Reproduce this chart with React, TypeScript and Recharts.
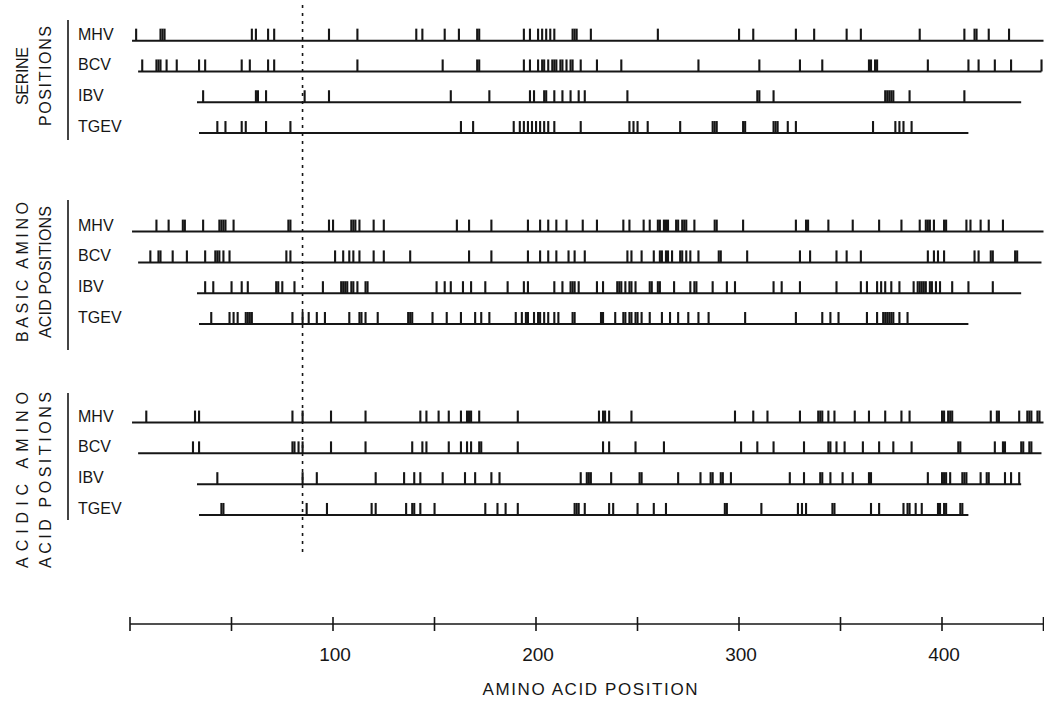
import { ScatterChart, Scatter, XAxis, YAxis, ReferenceLine } from "recharts";

const INK = "#161616";
const FONT = "'Liberation Sans', Arial, sans-serif";

// track names and how far each protein runs (amino acid position)
const viruses = ["MHV", "BCV", "IBV", "TGEV"];
const trackStart = [1, 4, 33, 34];
const trackEnd = [450, 449, 439, 413];

const groupTitles = [
  ["SERINE", "POSITIONS"],
  ["BASIC AMINO", "ACID POSITIONS"],
  ["ACIDIC AMINO", "ACID POSITIONS"],
];

const axisTicks = [0, 50, 100, 150, 200, 250, 300, 350, 400, 450];
const axisLabels = [100, 200, 300, 400];
const dividerPosition = 85;

// serine positions
const serineMHV = [3, 15, 16, 17, 60, 62, 68, 71, 98, 112, 141, 144, 155, 162, 171, 172, 194, 197, 201, 203, 205, 207, 209, 218, 219, 220, 227, 260, 300, 307, 328, 337, 353, 360, 389, 411, 416, 417, 423, 433];
const serineBCV = [6, 13, 14, 15, 18, 23, 34, 37, 55, 59, 68, 71, 112, 154, 171, 172, 194, 197, 201, 203, 204, 206, 208, 209, 210, 212, 213, 215, 217, 218, 222, 230, 242, 280, 310, 330, 341, 364, 365, 367, 368, 393, 413, 418, 426, 434, 449];
const serineIBV = [36, 62, 63, 67, 86, 98, 158, 177, 197, 199, 204, 205, 209, 213, 217, 221, 224, 245, 309, 310, 317, 372, 373, 374, 375, 376, 384, 411];
const serineTGEV = [43, 47, 55, 57, 67, 79, 163, 169, 189, 192, 194, 196, 198, 200, 202, 204, 206, 209, 222, 246, 248, 250, 255, 271, 287, 288, 289, 302, 303, 317, 318, 319, 324, 328, 366, 377, 379, 381, 385];

// basic amino acid positions
const basicMHV = [13, 19, 26, 27, 36, 44, 45, 46, 47, 51, 78, 79, 98, 100, 109, 110, 111, 113, 120, 125, 161, 167, 178, 196, 202, 206, 210, 215, 223, 230, 243, 246, 253, 256, 260, 261, 263, 264, 265, 269, 270, 272, 273, 274, 278, 288, 289, 302, 328, 333, 334, 344, 356, 369, 380, 389, 392, 393, 394, 396, 401, 402, 412, 414, 419, 423, 430];
const basicBCV = [10, 14, 15, 21, 28, 37, 42, 43, 44, 46, 49, 77, 79, 101, 105, 108, 110, 113, 120, 125, 138, 167, 178, 196, 202, 206, 210, 216, 219, 224, 245, 247, 252, 258, 261, 262, 264, 265, 267, 271, 272, 274, 276, 280, 290, 291, 304, 330, 335, 348, 353, 360, 393, 396, 398, 401, 416, 418, 424, 425, 436, 437];
const basicIBV = [37, 41, 50, 55, 58, 72, 73, 75, 81, 95, 104, 105, 106, 107, 109, 110, 112, 116, 117, 151, 155, 158, 164, 168, 175, 186, 194, 196, 209, 213, 217, 218, 219, 221, 230, 233, 240, 241, 242, 244, 246, 247, 249, 256, 257, 260, 261, 268, 276, 278, 279, 287, 294, 298, 317, 321, 330, 348, 360, 363, 368, 370, 372, 375, 379, 386, 388, 389, 390, 391, 392, 394, 395, 397, 399, 405, 413, 425];
const basicTGEV = [40, 49, 51, 53, 57, 58, 59, 60, 80, 85, 88, 92, 96, 108, 113, 114, 116, 122, 137, 138, 139, 149, 156, 163, 170, 173, 177, 190, 193, 195, 196, 199, 201, 202, 204, 206, 209, 211, 218, 219, 232, 233, 239, 243, 244, 246, 247, 249, 250, 252, 256, 262, 266, 270, 275, 280, 285, 303, 328, 341, 345, 349, 363, 368, 371, 372, 373, 374, 375, 376, 379, 383];

// acidic amino acid positions
const acidicMHV = [8, 32, 34, 80, 85, 99, 116, 143, 146, 152, 157, 163, 166, 167, 168, 172, 191, 231, 233, 234, 236, 247, 298, 307, 314, 330, 339, 340, 341, 344, 347, 357, 364, 372, 380, 384, 400, 401, 403, 404, 405, 424, 427, 428, 438, 442, 443, 444, 447, 448];
const acidicBCV = [31, 34, 80, 81, 83, 85, 99, 116, 139, 144, 146, 157, 163, 166, 168, 172, 173, 191, 233, 236, 249, 263, 301, 309, 317, 332, 344, 345, 348, 352, 361, 369, 376, 385, 408, 409, 426, 430, 431, 439, 440, 443, 444];
const acidicIBV = [43, 85, 92, 121, 135, 140, 143, 154, 165, 170, 178, 182, 222, 225, 226, 227, 237, 251, 252, 270, 281, 286, 287, 291, 292, 296, 325, 332, 340, 341, 345, 351, 356, 364, 365, 393, 400, 401, 402, 404, 410, 411, 412, 419, 422, 423, 431, 434, 438];
const acidicTGEV = [45, 46, 87, 97, 119, 121, 136, 139, 140, 143, 150, 175, 181, 185, 191, 219, 220, 221, 224, 236, 238, 250, 258, 264, 293, 294, 311, 329, 331, 333, 346, 347, 365, 369, 381, 383, 384, 387, 390, 398, 399, 401, 402, 409, 410];

const groups = [
  [serineMHV, serineBCV, serineIBV, serineTGEV],
  [basicMHV, basicBCV, basicIBV, basicTGEV],
  [acidicMHV, acidicBCV, acidicIBV, acidicTGEV],
];

// row index of each track on the hidden y axis (groups separated by a gap)
const GROUP_STEP = 6.2;
const rows: number[] = [];
groups.forEach((_, g) => viruses.forEach((_, t) => rows.push(+(g * GROUP_STEP + t).toFixed(2))));

const tracks = groups.flatMap((g, gi) =>
  g.map((positions, t) => ({
    key: `${gi}-${t}`,
    row: rows[gi * 4 + t],
    start: trackStart[t],
    end: trackEnd[t],
    data: positions.map((p) => ({ x: p, y: rows[gi * 4 + t] })),
  }))
);

const Mark = (props: any) => (
  <rect x={props.cx - 1} y={props.cy - 12} width={2.1} height={12} fill={INK} />
);

const TrackLabel = (props: any) => {
  const i = rows.findIndex((r) => Math.abs(r - props.payload.value) < 0.01);
  return (
    <text x={78} y={props.y - 1} fontFamily={FONT} fontSize={16} fill={INK}>
      {viruses[i % 4]}
    </text>
  );
};

const AxisTick = (props: any) => {
  const { x, y, payload } = props;
  return (
    <g>
      <line x1={x} x2={x} y1={y - 7} y2={y + 7} stroke={INK} strokeWidth={1.6} />
      {axisLabels.includes(payload.value) && (
        <text x={x + 2} y={y + 37} textAnchor="middle" fontFamily={FONT} fontSize={19} fill={INK}>
          {payload.value}
        </text>
      )}
    </g>
  );
};

// title columns and brackets on the left
const titleCenters = [76, 272, 480];
const titleLengths = [[58, 100], [140, 132], [176, 176]];
const bracketSpans = [[20, 140], [200, 350], [393, 520]];

export default function App() {
  return (
    <div style={{ position: "absolute", left: 0, top: 0, width: 1044, height: 702, background: "#fff" }}>
      <ScatterChart width={1044} height={702} margin={{ top: 0, right: 0.5, bottom: 0, left: 0 }}>
        <XAxis
          type="number"
          dataKey="x"
          domain={[0, 450]}
          ticks={axisTicks}
          interval={0}
          height={78}
          tickSize={0}
          tickMargin={0}
          tickLine={false}
          axisLine={{ stroke: INK, strokeWidth: 1.6 }}
          tick={<AxisTick />}
        />
        <YAxis
          type="number"
          dataKey="y"
          domain={[-1.32, 18.94]}
          reversed
          allowDataOverflow
          ticks={rows}
          interval={0}
          width={130}
          axisLine={false}
          tickLine={false}
          tick={<TrackLabel />}
        />
        {tracks.map((t) => (
          <ReferenceLine
            key={`base-${t.key}`}
            segment={[{ x: t.start, y: t.row }, { x: t.end, y: t.row }]}
            stroke={INK}
            strokeWidth={2}
            ifOverflow="visible"
          />
        ))}
        <ReferenceLine
          segment={[{ x: dividerPosition, y: -1.16 }, { x: dividerPosition, y: 16.7 }]}
          stroke={INK}
          strokeWidth={1.6}
          strokeDasharray="3 5"
          ifOverflow="visible"
        />
        {tracks.map((t) => (
          <Scatter key={`marks-${t.key}`} data={t.data} shape={<Mark />} isAnimationActive={false} />
        ))}
      </ScatterChart>

      <svg width={1044} height={702} style={{ position: "absolute", left: 0, top: 0, pointerEvents: "none" }}>
        {groupTitles.map((lines, g) => (
          <g key={g}>
            {lines.map((line, k) => {
              const cx = k === 0 ? 22 : 45;
              const cy = titleCenters[g];
              return (
                <text
                  key={k}
                  x={cx}
                  y={cy}
                  transform={`rotate(-90 ${cx} ${cy})`}
                  textAnchor="middle"
                  dominantBaseline="central"
                  fontFamily={FONT}
                  fontSize={16}
                  fill={INK}
                  textLength={titleLengths[g][k]}
                  lengthAdjust="spacing"
                >
                  {line}
                </text>
              );
            })}
            <line x1={68} x2={68} y1={bracketSpans[g][0]} y2={bracketSpans[g][1]} stroke={INK} strokeWidth={1.6} />
          </g>
        ))}
        <text x={590} y={695} textAnchor="middle" fontFamily={FONT} fontSize={17} fill={INK} textLength={215} lengthAdjust="spacing">
          AMINO ACID POSITION
        </text>
      </svg>
    </div>
  );
}
